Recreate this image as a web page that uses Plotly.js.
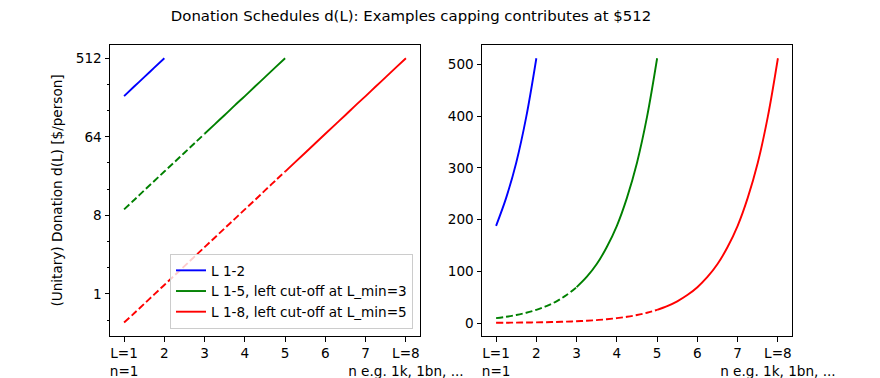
<!DOCTYPE html>
<html>
<head>
<meta charset="utf-8">
<script src="https://cdn.plot.ly/plotly-3.0.1.min.js"></script>
<style>html,body{margin:0;padding:0;background:#fff;}#chart{width:880px;height:378px;}</style>
</head>
<body>
<div id="chart"></div>
<script>
// Levels L (step 0.25) and donation values
const L_blue = [1, 1.25, 1.5, 1.75, 2];
const d_blue = [188, 242, 310, 399, 512];

const L_green = [1, 1.25, 1.5, 1.75, 2, 2.25, 2.5, 2.75, 3, 3.25, 3.5, 3.75, 4, 4.25, 4.5, 4.75, 5];
const d_green = [9.38, 12.0, 15.5, 19.9, 25.5, 32.7, 42.0, 54.0, 69.3, 89.0, 114, 147, 188, 242, 310, 399, 512];

const L_red = [1, 1.25, 1.5, 1.75, 2, 2.25, 2.5, 2.75, 3, 3.25, 3.5, 3.75, 4, 4.25, 4.5, 4.75, 5,
               5.25, 5.5, 5.75, 6, 6.25, 6.5, 6.75, 7, 7.25, 7.5, 7.75, 8];
const d_red = [0.47, 0.60, 0.77, 0.99, 1.27, 1.63, 2.09, 2.69, 3.45, 4.43, 5.69, 7.30, 9.38, 12.0, 15.5, 19.9, 25.5,
               32.7, 42.0, 54.0, 69.3, 89.0, 114, 147, 188, 242, 310, 399, 512];

const seriesNames = ["L 1-2", "L 1-5, left cut-off at L_min=3", "L 1-8, left cut-off at L_min=5"];
const cutoffs = [1, 3, 5];

const xTickVals = [1, 2, 3, 4, 5, 6, 7, 8];
const xTickText = ["L=1<br>n=1", "2", "3", "4", "5", "6", "7", "L=8<br>n e.g. 1k, 1bn, ..."];
const yLogTickVals = [1, 8, 64, 512];
const yLogMinor = [0.5, 2, 4, 16, 32, 128, 256];
const yLinTickVals = [0, 100, 200, 300, 400, 500];

const colors = ["#0000ff", "#008000", "#ff0000"];
const allL = [L_blue, L_green, L_red];
const allD = [d_blue, d_green, d_red];

const traces = [];
["x", "x2"].forEach((xa, pi) => {
  const ya = pi === 0 ? "y" : "y2";
  for (let s = 0; s < 3; s++) {
    const Ls = allL[s], Ds = allD[s], cut = cutoffs[s];
    const dx = [], dy = [], sx = [], sy = [];
    for (let i = 0; i < Ls.length; i++) {
      if (Ls[i] <= cut) { dx.push(Ls[i]); dy.push(Ds[i]); }
      if (Ls[i] >= cut) { sx.push(Ls[i]); sy.push(Ds[i]); }
    }
    if (dx.length > 1) {
      traces.push({x: dx, y: dy, xaxis: xa, yaxis: ya, mode: "lines", showlegend: false, hoverinfo: "skip",
        line: {color: colors[s], width: 1.9, dash: "7px,3px", shape: "spline"}});
    }
    traces.push({x: sx, y: sy, xaxis: xa, yaxis: ya, mode: "lines", name: seriesNames[s],
      showlegend: pi === 0, line: {color: colors[s], width: 1.9, shape: "spline"}});
  }
});

const font = {family: "DejaVu Sans, sans-serif", size: 13.6, color: "#000"};
const axBase = {showline: true, mirror: true, linecolor: "#000", linewidth: 1, ticks: "outside",
  ticklen: 4.5, tickcolor: "#000", tickwidth: 1, showgrid: false, zeroline: false, automargin: false,
  tickfont: font, tickangle: 0};

const layout = {
  width: 880, height: 378,
  margin: {l: 0, r: 0, t: 0, b: 0},
  paper_bgcolor: "#fff", plot_bgcolor: "#fff",
  font: font,
  showlegend: true,
  title: {text: "Donation Schedules d(L): Examples capping contributes at $512",
    x: 411/880, xanchor: "center", y: 1 - 16/378, yanchor: "middle",
    font: {family: "DejaVu Sans, sans-serif", size: 14.9, color: "#000"}},
  xaxis: Object.assign({}, axBase, {domain: [110/880, 420/880], range: [0.65, 8.35],
    tickmode: "array", tickvals: xTickVals, ticktext: xTickText, anchor: "y"}),
  yaxis: Object.assign({}, axBase, {domain: [1 - 336/378, 1 - 45/378], type: "log",
    range: [-0.483, 2.861], tickmode: "array", tickvals: yLogTickVals, ticktext: yLogTickVals.map(String),
    minor: {tickmode: "array", tickvals: yLogMinor, ticks: "outside", ticklen: 2.5, tickcolor: "#000"},
    anchor: "x",
    title: {text: "(Unitary) Donation d(L) [$/person]", font: font, standoff: 10}}),
  xaxis2: Object.assign({}, axBase, {domain: [482/880, 792/880], range: [0.65, 8.35],
    tickmode: "array", tickvals: xTickVals, ticktext: xTickText, anchor: "y2"}),
  yaxis2: Object.assign({}, axBase, {domain: [1 - 336/378, 1 - 45/378], range: [-25.1, 537.6],
    tickmode: "array", tickvals: yLinTickVals, anchor: "x2"}),
  legend: {x: 413/880, xanchor: "right", y: 1 - 329/378, yanchor: "bottom",
    bgcolor: "rgba(255,255,255,0.8)", bordercolor: "#cccccc", borderwidth: 1,
    font: font, itemwidth: 30, tracegroupgap: 0}
};

Plotly.newPlot("chart", traces, layout, {staticPlot: true, displayModeBar: false});
</script>
</body>
</html>
